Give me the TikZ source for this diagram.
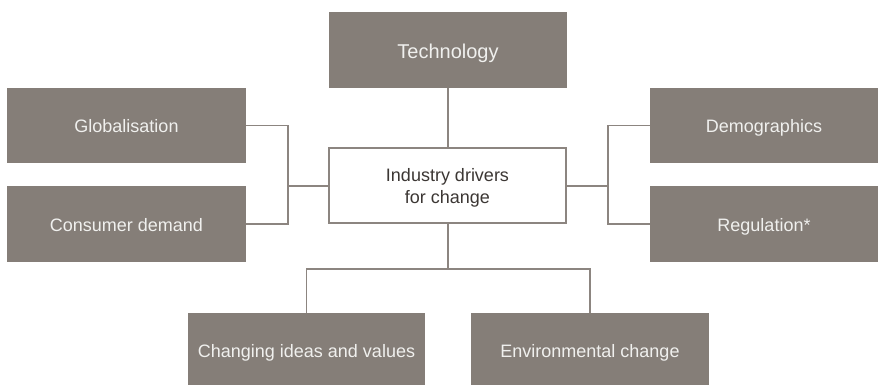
\documentclass[tikz,border=0pt]{standalone}
\usepackage{fontspec}
\setmainfont{Liberation Sans}
\definecolor{boxfill}{RGB}{133,126,120}
\definecolor{boxtext}{RGB}{240,240,238}
\definecolor{linecol}{RGB}{140,133,128}
\definecolor{centertext}{RGB}{60,55,52}
\begin{document}
\begin{tikzpicture}[x=0.5pt,y=-0.5pt,
  darkbox/.style={rectangle, fill=boxfill, draw=none, text=boxtext, inner sep=0pt,
    font=\fontsize{9}{11}\selectfont, align=center, text height=9.2pt, text depth=1.9pt},
  centerbox/.style={rectangle, fill=white, draw=linecol, line width=0.7pt, text=centertext, inner sep=0pt,
    font=\fontsize{9}{11}\selectfont, align=center, text height=20pt, text depth=1.9pt},
  conn/.style={draw=linecol, line width=0.7pt}]
\useasboundingbox (0,0) rectangle (878,385);
\node[darkbox, minimum width=119pt, minimum height=38pt, font=\fontsize{10}{12}\selectfont, text height=10.4pt, text depth=2.1pt] (tech) at (448,50) {Technology};
\node[darkbox, minimum width=119.5pt, minimum height=37.5pt] (glob) at (126.5,125.5) {Globalisation};
\node[darkbox, minimum width=119.5pt, minimum height=38pt] (cons) at (126.5,224) {Consumer demand};
\node[darkbox, minimum width=114pt, minimum height=37.5pt] (demo) at (764,125.5) {Demographics};
\node[darkbox, minimum width=114pt, minimum height=38pt] (reg) at (764,224) {Regulation*};
\node[centerbox, minimum width=118.5pt, minimum height=37.5pt] (center) at (447.5,185.5) {Industry drivers\\for change};
\node[darkbox, minimum width=118.5pt, minimum height=36pt, text height=10.5pt] (chg) at (306.5,349) {Changing ideas and values};
\node[darkbox, minimum width=119pt, minimum height=36pt, text height=10.5pt] (env) at (590,349) {Environmental change};
\coordinate (lj) at (288,186);
\coordinate (rj) at (608,186);
\coordinate (bj) at (448,269);
\draw[conn] (tech.south) -- (center.north -| tech.south);
\draw[conn] (glob.east) -| (lj);
\draw[conn] (cons.east) -| (lj);
\draw[conn] (lj) -- (center.west |- lj);
\draw[conn] (demo.west) -| (rj);
\draw[conn] (reg.west) -| (rj);
\draw[conn] (rj) -- (center.east |- rj);
\draw[conn] (center.south -| bj) -- (bj);
\draw[conn] (bj) -| (chg.north);
\draw[conn] (bj) -| (env.north);
\end{tikzpicture}
\end{document}
